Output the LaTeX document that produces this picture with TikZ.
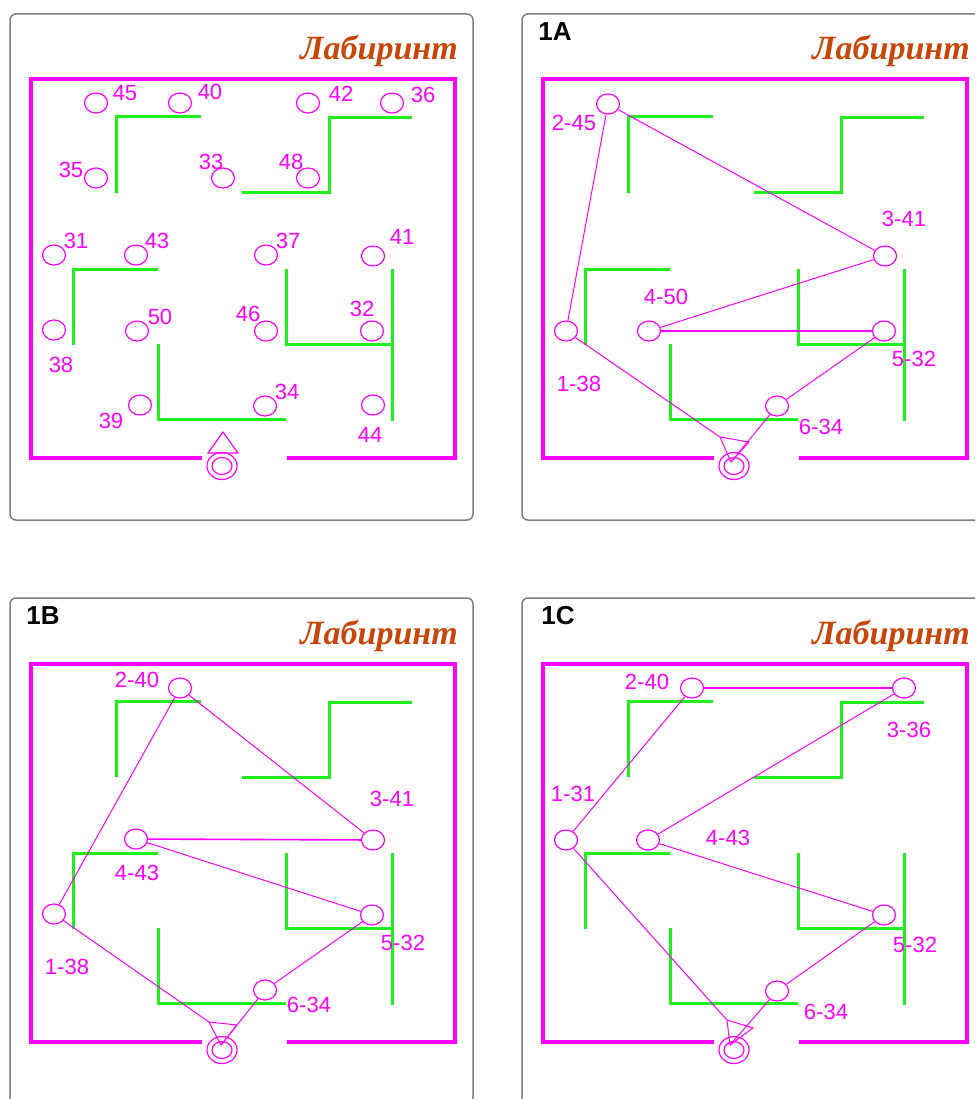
\documentclass[tikz,border=0pt]{standalone}
\usepackage{fontspec}
\setmainfont{Liberation Sans}
\newfontfamily\titlefont{Liberation Serif}
\usetikzlibrary{shapes.geometric}
\definecolor{mag}{RGB}{255,0,255}
\definecolor{wallgreen}{RGB}{30,240,30}
\definecolor{titlered}{RGB}{200,70,10}
\definecolor{panelgrey}{RGB}{128,128,128}
\tikzset{
 frame/.style={draw=mag, line width=4pt},
 wall/.style={draw=wallgreen, line width=3pt},
 spot/.style={ellipse, draw=mag, line width=1.2pt, minimum width=23pt, minimum height=20pt, inner sep=0pt},
 num/.style={text=mag, font=\fontsize{22}{22}\selectfont, inner sep=0pt},
 link/.style={draw=mag, line width=1pt},
 hlink/.style={draw=mag, line width=1.6pt},
 ttl/.style={text=titlered, font=\titlefont\bfseries\itshape\fontsize{34}{34}\selectfont, inner sep=0pt},
 tag/.style={font=\bfseries\fontsize{26}{26}\selectfont, inner sep=0pt},
 panel/.style={draw=panelgrey, line width=1.5pt, rounded corners=6pt},
 exitout/.style={ellipse, draw=mag, line width=1.2pt, minimum width=30pt, minimum height=27pt, inner sep=0pt},
 exitin/.style={ellipse, draw=mag, line width=1.2pt, minimum width=20pt, minimum height=17pt, inner sep=0pt},
 marker/.style={draw=mag, line width=1.2pt},
}
\newcommand\mazebg[1]{%
  \draw[panel] (10,14) rectangle (473,520);
  \draw[frame] (202,458) -- (31,458) -- (31,79.5) -- (455,79.5) -- (455,458) -- (287,458);
  \draw[wall] (116,193) -- (116,117) -- (201,117);
  \draw[wall] (242,193) -- (329,193) -- (329,118) -- (412,118);
  \draw[wall] (158,269) -- (73,269) -- (73,345);
  \draw[wall] (158,344) -- (158,419) -- (286,419);
  \draw[wall] (286,269) -- (286,344) -- (392,344);
  \draw[wall] (392,269) -- (392,421);
  \node[ttl, anchor=base east] (#1title) at (458,60) {Лабиринт};
  \node[exitout] (#1exit) at (222,466) {};
  \node[exitin] (#1exitin) at (222,466) {};
}
\begin{document}
\begin{tikzpicture}[x=1pt,y=-1pt]
\path[use as bounding box, clip] (0,0) rectangle (975,1099);
% ---------- panel 1 ----------
\begin{scope}
\mazebg{p}
\node[spot] (p45) at (96,103) {}; \node[num] (p45l) at (125,93) {45};
\node[spot] (p40) at (180,103) {}; \node[num] (p40l) at (210,92) {40};
\node[spot] (p42) at (308,103) {}; \node[num] (p42l) at (341,94) {42};
\node[spot] (p36) at (392,103) {}; \node[num] (p36l) at (423,95) {36};
\node[spot] (p35) at (96,178) {}; \node[num] (p35l) at (71,170) {35};
\node[spot] (p33) at (223,178) {}; \node[num] (p33l) at (211,162) {33};
\node[spot] (p48) at (308,178) {}; \node[num] (p48l) at (291,162) {48};
\node[spot] (p31) at (54,255) {}; \node[num] (p31l) at (76,241) {31};
\node[spot] (p43) at (136,255) {}; \node[num] (p43l) at (157,241) {43};
\node[spot] (p37) at (266,255) {}; \node[num] (p37l) at (288,241) {37};
\node[spot] (p41) at (373,256) {}; \node[num] (p41l) at (402,237) {41};
\node[spot] (p38) at (54,330) {}; \node[num] (p38l) at (61,365) {38};
\node[spot] (p50) at (137,331) {}; \node[num] (p50l) at (160,317) {50};
\node[spot] (p46) at (266,331) {}; \node[num] (p46l) at (248,314) {46};
\node[spot] (p32) at (372,331) {}; \node[num] (p32l) at (362,309) {32};
\node[spot] (p39) at (140,405) {}; \node[num] (p39l) at (111,421) {39};
\node[spot] (p34) at (265,406) {}; \node[num] (p34l) at (287,392) {34};
\node[spot] (p44) at (373,405) {}; \node[num] (p44l) at (370,435) {44};
\draw[marker] (208,453) -- (223,432) -- (238,453) -- cycle;
\end{scope}
% ---------- panel 1A ----------
\begin{scope}[shift={(512,0)}]
\mazebg{a}
\node[tag] (atag) at (43,32) {1A};
\node[spot] (a45) at (96,104) {}; \node[num] (a45l) at (62,123) {2-45};
\node[spot] (a41) at (373,256) {}; \node[num] (a41l) at (392,219) {3-41};
\node[spot] (a50) at (137,331) {}; \node[num] (a50l) at (154,297) {4-50};
\node[spot] (a32) at (372,331) {}; \node[num] (a32l) at (402,359) {5-32};
\node[spot] (a38) at (54,331) {}; \node[num] (a38l) at (67,384) {1-38};
\node[spot] (a34) at (265,406) {}; \node[num] (a34l) at (309,427) {6-34};
\coordinate (aL) at (208,437);
\coordinate (aR) at (237,442);
\coordinate (aA) at (219,462);
\draw[marker, line width=1pt] (aL) -- (aR) -- (aA) -- cycle;
\draw[link] (a38) -- (a45);
\draw[link] (a45) -- (a41);
\draw[link] (a41) -- (a50);
\draw[hlink] (a50) -- (a32);
\draw[link] (a32) -- (a34);
\draw[link] (a34) -- (aA);
\draw[link] (a38) -- (aL);
\end{scope}
% ---------- panel 1B ----------
\begin{scope}[shift={(0,584)}]
\mazebg{b}
\node[tag] (btag) at (43,32) {1B};
\node[spot] (b40) at (180,104) {}; \node[num] (b40l) at (137,96) {2-40};
\node[spot] (b41) at (373,256) {}; \node[num] (b41l) at (392,215) {3-41};
\node[spot] (b43) at (136,255) {}; \node[num] (b43l) at (137,289) {4-43};
\node[spot] (b32) at (372,331) {}; \node[num] (b32l) at (403,359) {5-32};
\node[spot] (b38) at (54,330) {}; \node[num] (b38l) at (67,383) {1-38};
\node[spot] (b34) at (265,406) {}; \node[num] (b34l) at (309,421) {6-34};
\coordinate (bL) at (209,438);
\coordinate (bR) at (237,441);
\coordinate (bA) at (221,461);
\draw[marker, line width=1pt] (bL) -- (bR) -- (bA) -- cycle;
\draw[link] (b38) -- (b40);
\draw[link] (b40) -- (b41);
\draw[hlink] (b41) -- (b43);
\draw[link] (b43) -- (b32);
\draw[link] (b32) -- (b34);
\draw[link] (b34) -- (bA);
\draw[link] (b38) -- (bL);
\end{scope}
% ---------- panel 1C ----------
\begin{scope}[shift={(512,584)}]
\mazebg{c}
\node[tag] (ctag) at (46,32) {1C};
\node[spot] (c40) at (180,104) {}; \node[num] (c40l) at (135,98) {2-40};
\node[spot] (c36) at (392,104) {}; \node[num] (c36l) at (397,146) {3-36};
\node[spot] (c31) at (54,256) {}; \node[num] (c31l) at (61,210) {1-31};
\node[spot] (c43) at (136,256) {}; \node[num] (c43l) at (216,254) {4-43};
\node[spot] (c32) at (372,331) {}; \node[num] (c32l) at (403,361) {5-32};
\node[spot] (c34) at (265,407) {}; \node[num] (c34l) at (314,428) {6-34};
\coordinate (cL) at (215,436);
\coordinate (cR) at (241,444);
\coordinate (cA) at (218,461);
\draw[marker, line width=1pt] (cL) -- (cR) -- (cA) -- cycle;
\draw[link] (c31) -- (c40);
\draw[hlink] (c40) -- (c36);
\draw[link] (c36) -- (c43);
\draw[link] (c43) -- (c32);
\draw[link] (c32) -- (c34);
\draw[link] (c34) -- (cA);
\draw[link] (c31) -- (cL);
\end{scope}
\end{tikzpicture}
\end{document}
